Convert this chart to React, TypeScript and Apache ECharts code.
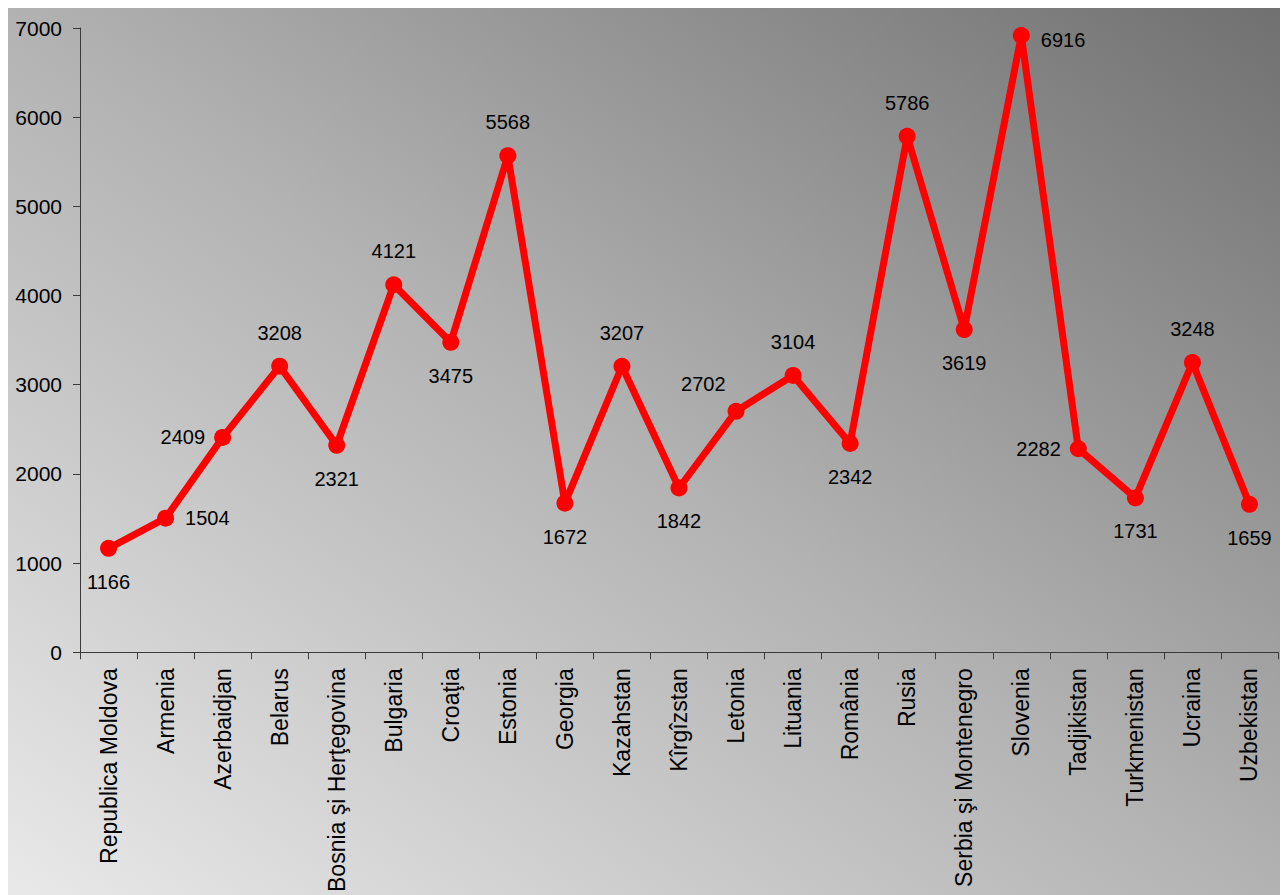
import React, { useEffect, useRef } from "react";
import * as echarts from "echarts";

const categories: string[] = [
  "Republica Moldova",
  "Armenia",
  "Azerbaidjan",
  "Belarus",
  "Bosnia şi Herţegovina",
  "Bulgaria",
  "Croaţia",
  "Estonia",
  "Georgia",
  "Kazahstan",
  "Kîrgîzstan",
  "Letonia",
  "Lituania",
  "România",
  "Rusia",
  "Serbia şi Montenegro",
  "Slovenia",
  "Tadjikistan",
  "Turkmenistan",
  "Ucraina",
  "Uzbekistan",
];

const values: number[] = [
  1166, 1504, 2409, 3208, 2321, 4121, 3475, 5568, 1672, 3207, 1842, 2702,
  3104, 2342, 5786, 3619, 6916, 2282, 1731, 3248, 1659,
];

const yTicks = { min: 0, max: 7000, interval: 1000 };

// where each value label sits relative to its point
const labelSide: string[] = [
  "bottom", "right", "left", "top", "bottom", "top", "bottom", "top", "bottom",
  "top", "bottom", "topleft", "top", "bottom", "top", "bottom", "right", "left",
  "bottom", "top", "bottom",
];

const FONT = '"Liberation Sans", Arial, Helvetica, sans-serif';

export default function App() {
  const ref = useRef<HTMLDivElement>(null);
  useEffect(() => {
    document.documentElement.style.overflow = "hidden";
    if (!ref.current) return;
    const chart = echarts.init(ref.current, undefined, { renderer: "svg" });

    const data = values.map((v, i) => {
      const side = labelSide[i];
      let label: any;
      if (side === "top" || side === "bottom") {
        label = { position: side, distance: 15 };
      } else if (side === "topleft") {
        label = { position: "left", distance: 2, offset: [0, -27] };
      } else if (side === "right") {
        label = { position: "right", distance: 11, offset: i === 16 ? [0, 5] : [0, 0] };
      } else {
        label = { position: "left", distance: 9 };
      }
      return { value: v, label };
    });

    chart.setOption({
      animation: false,
      graphic: [
        {
          type: "rect",
          z: -10,
          silent: true,
          shape: { x: 0, y: 0, width: 1280, height: 887 },
          style: {
            fill: new echarts.graphic.LinearGradient(0, 1, 1, 0, [
              { offset: 0, color: "#e9e9e9" },
              { offset: 0.5, color: "#b2b2b2" },
              { offset: 1, color: "#707070" },
            ]),
          },
        },
      ],
      grid: { left: 72, right: 10, top: 20, bottom: 241, containLabel: false },
      xAxis: {
        type: "category",
        data: categories,
        boundaryGap: true,
        axisLine: { show: true, lineStyle: { color: "#3a3a3a", width: 1 } },
        axisTick: { show: true, length: 7, alignWithLabel: false, lineStyle: { color: "#3a3a3a" } },
        axisLabel: {
          rotate: 90,
          interval: 0,
          margin: 16,
          fontSize: 23,
          color: "#000",
          fontFamily: FONT,
        },
        splitLine: { show: false },
      },
      yAxis: {
        type: "value",
        min: yTicks.min,
        max: yTicks.max,
        interval: yTicks.interval,
        axisLine: { show: true, lineStyle: { color: "#3a3a3a", width: 1 } },
        axisTick: { show: true, length: 7, lineStyle: { color: "#3a3a3a" } },
        axisLabel: {
          margin: 18,
          fontSize: 21,
          color: "#000",
          fontFamily: FONT,
          formatter: (v: number) => String(v),
        },
        splitLine: { show: false },
      },
      series: [
        {
          type: "line",
          data,
          symbol: "circle",
          symbolSize: 17,
          lineStyle: { color: "#ff0000", width: 7 },
          itemStyle: { color: "#ff0000" },
          label: {
            show: true,
            fontSize: 20,
            color: "#000",
            fontFamily: FONT,
          },
          z: 3,
        },
      ],
    });
    return () => chart.dispose();
  }, []);
  return <div ref={ref} style={{ width: 1280, height: 887 }} />;
}
